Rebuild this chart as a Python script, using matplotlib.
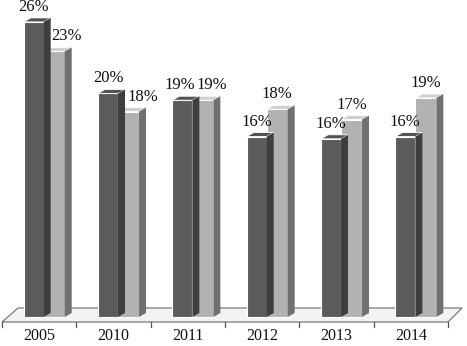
import matplotlib
matplotlib.use("Agg")
import matplotlib.pyplot as plt
from matplotlib.patches import Polygon

# data (bar heights)
years = ["2005", "2010", "2011", "2012", "2013", "2014"]
series_dark = [26.0, 19.7, 19.1, 15.9, 15.7, 15.9]
series_light = [23.4, 18.1, 19.1, 18.3, 17.4, 19.3]
labels_dark = ["26%", "20%", "19%", "16%", "16%", "16%"]
labels_light = ["23%", "18%", "19%", "18%", "17%", "19%"]

plt.rcParams['font.family'] = ['Liberation Serif', 'DejaVu Serif']

W, H = 467, 346
PX_CAT = 74.33   # pixels per category
PX_PCT = 11.35   # pixels per percent
BASE_PX = 317    # pixel row of 0 %

fig = plt.figure(figsize=(W / 100, H / 100), dpi=100)
ax = fig.add_axes([0, 0, 1, 1])
x0 = -39.2 / PX_CAT
ax.set_xlim(x0, x0 + W / PX_CAT)
ax.set_ylim(-(H - BASE_PX) / PX_PCT, BASE_PX / PX_PCT)
ax.axis('off')


def px_x(p):
    return p / PX_CAT


def px_y(p):
    return p / PX_PCT


dx, dy = px_x(7), px_y(4)

# floor
n = len(years)
fl = [(-0.5, -px_y(5)), (n - 0.5, -px_y(5)),
      (n - 0.5 + px_x(14), px_y(9)), (-0.5 + px_x(16), px_y(9))]
ax.add_patch(Polygon(fl, closed=True, facecolor='#f3f3f3', edgecolor='#7a7a7a', lw=0.9, zorder=1))
for k in range(n + 1):
    ax.plot([k - 0.5, k - 0.5], [-px_y(5), -px_y(9.5)], color='#555555', lw=0.9, zorder=1)


def bar3d(xl, w, v, front, top, side):
    ax.bar(xl, v, width=w, align='edge', color=front, edgecolor='white', lw=0.8, zorder=3)
    ax.add_patch(Polygon([(xl, v), (xl + w, v), (xl + w + dx, v + dy), (xl + dx, v + dy)],
                         closed=True, facecolor=top, edgecolor='white', lw=0.6, zorder=3))
    ax.add_patch(Polygon([(xl + w, 0), (xl + w + dx, dy), (xl + w + dx, v + dy), (xl + w, v)],
                         closed=True, facecolor=side, edgecolor='none', zorder=3))


# label x shifts in pixels where the chart moved them aside
shift_dark = [0, 0, -3, 0, 0, 0]
shift_light = [12, 14, 9, 0, 0, 0]

for i in range(n):
    xd = i + px_x(-15.5)
    xl = i + px_x(4.5)
    wd = px_x(20)
    wl = px_x(21)
    bar3d(xl, wl, series_light[i], '#b2b2b2', '#d0d0d0', '#707070')
    bar3d(xd, wd, series_dark[i], '#5b5b5b', '#525252', '#3e3e3e')
    ax.text(xd + wd / 2 + px_x(shift_dark[i]), series_dark[i] + px_y(15), labels_dark[i],
            ha='center', va='center', fontsize=12, color='#111111', zorder=5)
    ax.text(xl + wl / 2 + px_x(shift_light[i]), series_light[i] + px_y(15), labels_light[i],
            ha='center', va='center', fontsize=12, color='#111111', zorder=5)
    ax.text(i, -px_y(19), years[i], ha='center', va='center', fontsize=11.5, color='#111111')

fig.savefig("out.png", dpi=100)
